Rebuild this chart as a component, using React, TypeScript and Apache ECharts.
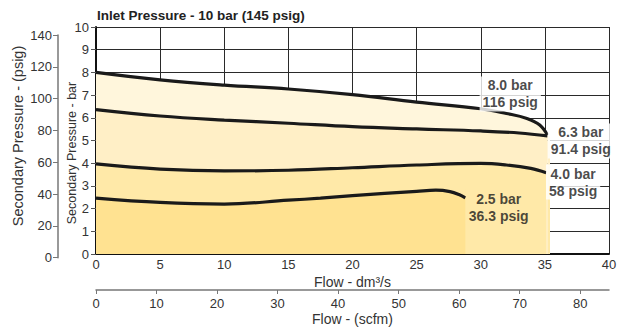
import React, { useEffect, useRef } from "react";
import * as echarts from "echarts";

// Flow (dm3/s) and secondary pressure (bar)
const x80 = [0, 5, 10, 15, 20, 25, 30, 32, 33.6, 34.6, 35.2];
const y80 = [8.0, 7.67, 7.44, 7.27, 7.02, 6.69, 6.4, 6.19, 5.97, 5.68, 5.24];

const x63 = [0, 5, 10, 15, 20, 25, 30, 33, 35.2];
const y63 = [6.36, 6.08, 5.9, 5.76, 5.61, 5.51, 5.42, 5.33, 5.2];

const x40 = [0, 5, 10, 15, 20, 25, 30, 32, 33.9, 35.1];
const y40 = [3.97, 3.74, 3.66, 3.69, 3.8, 3.92, 3.99, 3.92, 3.77, 3.58];

const x25 = [0, 5, 10, 15, 17.5, 20, 25, 26.5, 27.6, 28.3, 28.8];
const y25 = [2.46, 2.27, 2.2, 2.37, 2.46, 2.57, 2.76, 2.81, 2.75, 2.62, 2.47];

const curveLabels = ["8.0 bar\n116 psig", "6.3 bar\n91.4 psig", "4.0 bar\n58 psig", "2.5 bar\n36.3 psig"];
const labelPos = [
  [32.3, 7.05],
  [37.8, 4.98],
  [37.2, 3.17],
  [31.4, 2.07],
];
const fillEnd = 35.4;

const title = "Inlet Pressure - 10 bar (145 psig)";
const psigName = "Secondary Pressure - (psig)";
const barName = "Secondary Pressure - bar";
const flowName = "Flow - dm³/s";
const scfmName = "Flow - (scfm)";
const FONT = "'Liberation Sans', Arial, Helvetica, sans-serif";
const TXT = "#333";

function pts(xs: number[], ys: number[]) {
  return xs.map((x, i) => [x, ys[i]]);
}

export default function App() {
  const ref = useRef<HTMLDivElement>(null);
  useEffect(() => {
    if (!ref.current) return;
    const chart = echarts.init(ref.current, undefined, { renderer: "svg" });
    const smooth = 0.4;
    const fill = (data: number[][], color: string, ext?: number) => ({
      type: "line",
      data,
      smooth,
      symbol: "none",
      lineStyle: { width: 0 },
      areaStyle: { color, opacity: 1 },
      silent: true,
      z: 1,
      markArea: ext
        ? {
            silent: true,
            itemStyle: { color, opacity: 1 },
            data: [[{ coord: [data[data.length - 1][0], 0] }, { coord: [fillEnd, ext] }]],
          }
        : undefined,
    });
    const curve = (data: number[][]) => ({
      type: "line",
      data,
      smooth,
      symbol: "none",
      lineStyle: { width: 3.2, color: "#1a1a1a" },
      silent: true,
      z: 3,
    });
    const labelBg = ["#ffffff", "#ffffff", "#ffffff", "#FFE9A8"];
    chart.setOption({
      animation: false,
      title: {
        text: title,
        left: 97,
        top: 8,
        padding: 0,
        textStyle: { fontFamily: FONT, fontSize: 13.5, fontWeight: "bold", color: "#222" },
      },
      graphic: [
        {
          type: "text",
          x: 18,
          y: 136,
          rotation: Math.PI / 2,
          style: {
            text: psigName,
            font: `14.5px ${FONT}`,
            fill: TXT,
            align: "center",
            verticalAlign: "middle",
          },
        },
        {
          type: "text",
          x: 72,
          y: 153,
          rotation: Math.PI / 2,
          style: {
            text: barName,
            font: `12.5px ${FONT}`,
            fill: TXT,
            align: "center",
            verticalAlign: "middle",
          },
        },
      ],
      grid: [
        { left: 96, top: 27, width: 513, height: 230.7 },
        { left: 58, top: 35, width: 1, height: 222.7 },
      ],
      xAxis: [
        {
          type: "value",
          gridIndex: 0,
          min: 0,
          max: 40,
          interval: 5,
          name: flowName,
          nameLocation: "middle",
          nameGap: 22,
          nameMoveOverlap: false,
          nameTextStyle: { fontFamily: FONT, fontSize: 14, lineHeight: 12, color: TXT },
          axisLine: { show: true, lineStyle: { color: "#111", width: 2 } },
          axisTick: { show: false },
          axisLabel: { margin: 5, lineHeight: 11, fontFamily: FONT, fontSize: 13, color: TXT },
          splitLine: { show: true, lineStyle: { color: "#2a2a2a", width: 1 } },
        },
        {
          type: "value",
          gridIndex: 0,
          position: "bottom",
          offset: 36,
          min: 0,
          max: 40 * 2.1189,
          interval: 10,
          name: scfmName,
          nameLocation: "middle",
          nameGap: 22,
          nameMoveOverlap: false,
          nameTextStyle: { fontFamily: FONT, fontSize: 14, color: TXT },
          axisLine: { show: true, lineStyle: { color: "#777", width: 1.5 } },
          axisTick: { show: true, length: 4, lineStyle: { color: "#777" } },
          axisLabel: {
            margin: 7,
            fontFamily: FONT,
            fontSize: 13,
            color: TXT,
            showMaxLabel: false,
            formatter: (v: number) => (v % 10 === 0 ? String(v) : ""),
          },
          splitLine: { show: false },
        },
        {
          type: "value",
          gridIndex: 1,
          show: false,
          min: 0,
          max: 1,
        },
      ],
      yAxis: [
        {
          type: "value",
          gridIndex: 0,
          min: 0,
          max: 10,
          interval: 1,
          axisLine: { show: true, lineStyle: { color: "#111", width: 2 } },
          axisTick: { show: true, length: 5, lineStyle: { color: "#555" } },
          axisLabel: { margin: 7, fontFamily: FONT, fontSize: 13, color: TXT },
          splitLine: { show: true, lineStyle: { color: "#2a2a2a", width: 1 } },
        },
        {
          type: "value",
          gridIndex: 1,
          min: 0,
          max: 140,
          interval: 20,
          axisLine: { show: true, lineStyle: { color: "#777", width: 1.5 } },
          axisTick: { show: true, length: 5, lineStyle: { color: "#777" } },
          axisLabel: { margin: 6, fontFamily: FONT, fontSize: 13, color: TXT },
          splitLine: { show: false },
        },
      ],
      series: [
        fill(pts(x80, y80), "#FFF6DC"),
        fill(pts(x63, y63), "#FFEFC6", y63[y63.length - 1]),
        fill(pts(x40, y40), "#FFE9A8", y40[y40.length - 1]),
        fill(pts(x25, y25), "#FFE291"),
        curve(pts(x80, y80)),
        curve(pts(x63, y63)),
        curve(pts(x40, y40)),
        curve(pts(x25, y25)),
        {
          type: "scatter",
          symbolSize: 1,
          itemStyle: { color: "rgba(0,0,0,0)" },
          silent: true,
          z: 5,
          data: labelPos.map((p, i) => ({
            value: p,
            label: {
              show: true,
              position: "inside",
              formatter: curveLabels[i],
              fontFamily: FONT,
              fontSize: 14,
              fontWeight: "bold",
              color: "#1a1a1a",
              lineHeight: 17,
              align: "center",
              backgroundColor: labelBg[i],
              padding: [1, 3, 0, 3],
            },
          })),
        },
      ],
    });
    return () => chart.dispose();
  }, []);
  return (
    <div
      ref={ref}
      style={{ position: "absolute", left: 0, top: 0, width: 620, height: 331 }}
    />
  );
}
